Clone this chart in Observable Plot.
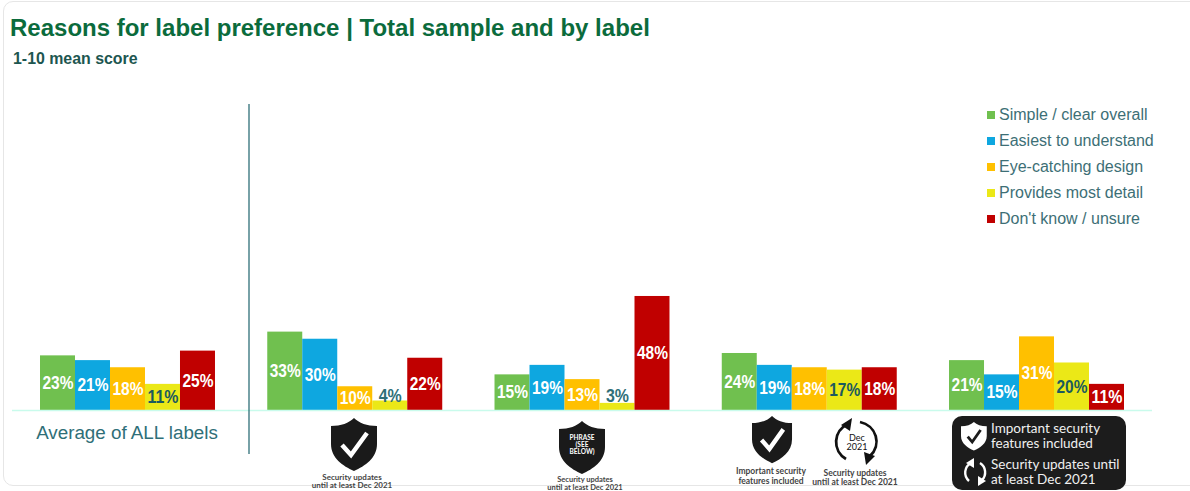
<!DOCTYPE html>
<html>
<head>
<meta charset="utf-8">
<script src="https://cdn.jsdelivr.net/npm/d3@7"></script>
<script src="https://cdn.jsdelivr.net/npm/@observablehq/plot@0.6"></script>
<style>
html,body{margin:0;padding:0;background:#fff;overflow:hidden}
#page{position:relative;width:1190px;height:491px;overflow:hidden;font-family:"Liberation Sans",Arial,sans-serif}
#card{position:absolute;left:3px;top:1px;width:1240px;height:485px;border:1.5px solid #e6e6e6;border-radius:10px;box-sizing:border-box}
#head{position:relative;height:75px}
#title{position:absolute;left:10px;top:14px;font-size:24px;font-weight:bold;color:#0b6b3c;white-space:nowrap}
#sub{position:absolute;left:13px;top:50px;font-size:15.9px;font-weight:bold;color:#1d5650;white-space:nowrap}
#chart svg{display:block}
#legend{position:absolute;left:987px;top:102px;color:#3d6f76;font-size:16px}
#legend div{height:26px;line-height:26px;white-space:nowrap;position:relative;padding-left:12px}
#legend i{position:absolute;left:0;top:9px;width:8px;height:8px}
#overlay{position:absolute;left:0;top:0}
</style>
</head>
<body>
<div id="page">
<div id="card"></div>
<div id="head">
<div id="title">Reasons for label preference | Total sample and by label</div>
<div id="sub">1-10 mean score</div>
</div>
<div id="chart"></div>
<div id="legend"></div>
<svg id="overlay" width="1190" height="491" xmlns="http://www.w3.org/2000/svg" font-family="Lato,'Liberation Sans',Arial,sans-serif">
<defs>
<path id="sh" d="M23 0C28 5 36 8 46 8L46 26C46 40 34 48 23 53C12 48 0 40 0 26L0 8C10 8 18 5 23 0Z"/>
</defs>
<line x1="12" x2="1152" y1="410.5" y2="410.5" stroke="#c9fbec" stroke-width="1.5"/>
<line x1="249" x2="249" y1="104" y2="454" stroke="#2f6f78" stroke-width="1.3"/>

<g transform="translate(331,418)" fill="#1a1a1a"><use href="#sh"/><polyline points="11,27 20,37 36,15" fill="none" stroke="#fff" stroke-width="4.5"/></g>
<g font-size="8" font-weight="700" fill="#444" text-anchor="middle"><text x="352" y="480">Security updates</text><text x="352" y="488">until at least Dec 2021</text></g>

<g transform="translate(559,421)" fill="#1a1a1a"><use href="#sh"/></g>
<g font-size="6.5" font-weight="700" fill="#fff" text-anchor="middle"><text x="582" y="440">PHRASE</text><text x="582" y="447">(SEE</text><text x="582" y="454">BELOW)</text></g>
<g font-size="7.5" font-weight="700" fill="#444" text-anchor="middle"><text x="585" y="482">Security updates</text><text x="585" y="490">until at least Dec 2021</text></g>

<g transform="translate(752,416) scale(0.87,0.89)" fill="#1a1a1a"><use href="#sh"/><polyline points="11,27 20,37 36,15" fill="none" stroke="#fff" stroke-width="5"/></g>
<g font-size="8.5" font-weight="700" fill="#444" text-anchor="middle"><text x="771" y="474">Important security</text><text x="771" y="484">features included</text></g>
<g fill="none" stroke="#111" stroke-width="2.8"><path d="M846 459A21 20 0 0 1 848 424"/><path d="M860 422A21 20 0 0 1 870 456"/></g>
<g fill="#111"><path d="M852 418L850 431L841 425Z"/><path d="M866 465L864 452L875 456Z"/></g>
<g font-size="9" fill="#111" text-anchor="middle"><text x="857" y="441">Dec</text><text x="857" y="450">2021</text></g>
<g font-size="8.5" font-weight="700" fill="#444" text-anchor="middle"><text x="855" y="476">Security updates</text><text x="855" y="485">until at least Dec 2021</text></g>

<rect x="952" y="416" width="174" height="74" rx="10" fill="#1c1c1c"/>
<g transform="translate(961,422) scale(0.56,0.54)" fill="#fff"><use href="#sh"/><polyline points="12,27 20,37 35,15" fill="none" stroke="#1c1c1c" stroke-width="5"/></g>
<g fill="none" stroke="#fff" stroke-width="2.4"><path d="M969 481A11 11 0 0 1 971 463"/><path d="M980 463A11 11 0 0 1 982 480"/></g>
<g fill="#fff"><path d="M974 458L974 468L966 463Z"/><path d="M978 486L978 476L986 481Z"/></g>
<g font-size="13.5" fill="#f0f0f0"><text x="991" y="433">Important security</text><text x="991" y="448">features included</text><text x="991" y="469">Security updates until</text><text x="991" y="484">at least Dec 2021</text></g>
</svg>
</div>
<script>
const groups = ["Average of ALL labels", "Shield + updates", "Phrase + updates", "Shield and clock", "Black badge"];
const reasons = ["Simple / clear overall", "Easiest to understand", "Eye-catching design", "Provides most detail", "Don't know / unsure"];
const colors = ["#70c04f", "#0ea7e0", "#ffc000", "#ebe817", "#c00000"];
const simple = [23, 33, 15, 24, 21];
const easiest = [21, 30, 19, 19, 15];
const eyeCatching = [18, 10, 13, 18, 31];
const detail = [11, 4, 3, 17, 20];
const unsure = [25, 22, 48, 18, 11];
const series = [simple, easiest, eyeCatching, detail, unsure];

const rows = [];
series.forEach((vals, r) => vals.forEach((v, g) => rows.push({group: groups[g], reason: reasons[r], value: v})));

const chart = Plot.plot({
  width: 1190,
  height: 416,
  marginTop: 25,
  marginBottom: 81,
  marginLeft: 40,
  marginRight: 66,
  style: {background: "transparent"},
  fx: {domain: groups, padding: 0.23, round: false, label: null},
  x: {domain: reasons, padding: 0, round: false, axis: null},
  y: {domain: [0, 130.5], axis: null},
  color: {domain: reasons, range: colors},
  marks: [
    Plot.barY(rows, {fx: "group", x: "reason", y: "value", fill: "reason", inset: 0}),
    Plot.text(rows, {
      fx: "group", x: "reason",
      y: d => d.value < 5 ? 6 : d.value / 2,
      text: d => d.value + "%",
      fill: d => d.value < 5 ? "#2f6f78" : d.reason === reasons[3] ? "#1c5a5e" : "#fff",
      fontFamily: "'Liberation Sans',Arial,sans-serif",
      fontWeight: "bold",
      fontSize: 18
    }),
    Plot.axisFx({
      anchor: "bottom",
      tickSize: 0,
      tickPadding: 15,
      label: null,
      tickFormat: d => d === groups[0] ? d : "",
      fontSize: 18.8,
      fill: "#2f6f78",
      fontFamily: "'Liberation Sans',Arial,sans-serif",
      dx: -1
    })
  ]
});
// the reference uses a condensed bold face for its value labels
chart.querySelectorAll("text").forEach(t => {
  const s = t.textContent;
  if (s.endsWith("%")) {
    t.setAttribute("textLength", s.length > 2 ? 31 : 23);
    t.setAttribute("lengthAdjust", "spacingAndGlyphs");
  }
});
document.getElementById("chart").appendChild(chart);

const legend = document.getElementById("legend");
reasons.forEach((r, i) => {
  const row = document.createElement("div");
  const sw = document.createElement("i");
  sw.style.background = colors[i];
  row.appendChild(sw);
  row.appendChild(document.createTextNode(r));
  legend.appendChild(row);
});
</script>
</body>
</html>
